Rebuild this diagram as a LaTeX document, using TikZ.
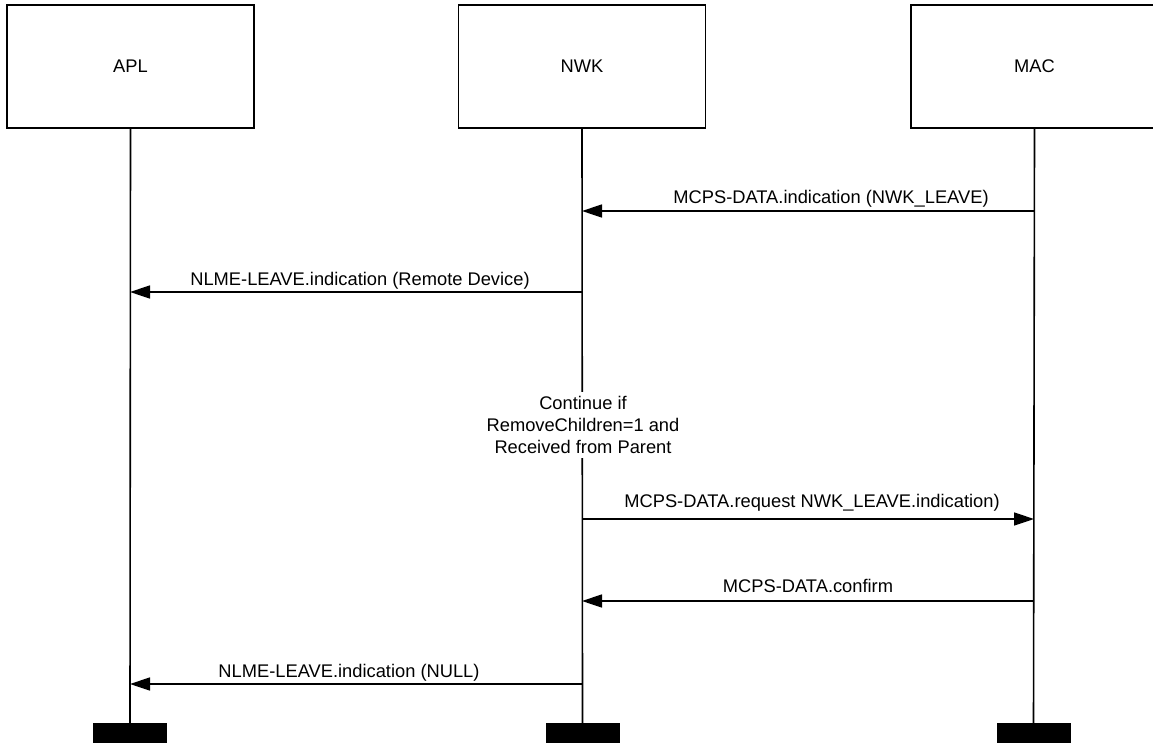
\documentclass[tikz,border=0pt]{standalone}
\usepackage{fontspec}
\setmainfont{Liberation Sans}
\usetikzlibrary{arrows.meta}
\begin{document}
\begin{tikzpicture}[x=1pt,y=-1pt,
  lane/.style={draw, line width=1.6pt, minimum width=247pt, minimum height=123pt, inner sep=0pt, font=\fontsize{18.3}{22}\selectfont},
  bar/.style={fill=black, minimum width=74pt, minimum height=20pt, inner sep=0pt},
  life/.style={line width=1.6pt},
  msg/.style={line width=1.6pt, -{Triangle[length=20pt,width=13pt]}},
  lbl/.style={font=\fontsize{18.3}{22}\selectfont, anchor=base, inner sep=0pt}]
\useasboundingbox (0,0) rectangle (1153,742);
% lanes
\node[lane] (apl) at (130.5,66.5) {APL};
\node[lane] (nwk) at (582,66.5) {NWK};
\node[lane] (mac) at (1034.5,66.5) {MAC};
% bars
\node[bar] (aplbar) at (130,733) {};
\node[bar] (nwkbar) at (582.5,733) {};
\node[bar] (macbar) at (1033.5,733) {};
% lifelines
\draw[life] (apl.south) -- (aplbar.north);
\draw[life] (nwk.south) -- (nwkbar.north);
\draw[life] (mac.south) -- (macbar.north);
% message points
\coordinate (m1a) at (1034,211); \coordinate (m1b) at (582,211);
\coordinate (m2a) at (582,292);  \coordinate (m2b) at (130,292);
\coordinate (m3a) at (582,519);  \coordinate (m3b) at (1034,519);
\coordinate (m4a) at (1034,601); \coordinate (m4b) at (582,601);
\coordinate (m5a) at (582,684);  \coordinate (m5b) at (130,684);
\draw[msg] (m1a) -- (m1b);
\draw[msg] (m2a) -- (m2b);
\draw[msg] (m3a) -- (m3b);
\draw[msg] (m4a) -- (m4b);
\draw[msg] (m5a) -- (m5b);
% labels
\node[lbl] (l1) at (831,203) {MCPS-DATA.indication (NWK\_LEAVE)};
\node[lbl] (l2) at (360,285) {NLME-LEAVE.indication (Remote Device)};
\node[lbl] (l3) at (812,507) {MCPS-DATA.request NWK\_LEAVE.indication)};
\node[lbl] (l4) at (808,592) {MCPS-DATA.confirm};
\node[lbl] (l5) at (349,677) {NLME-LEAVE.indication (NULL)};
\node[font=\fontsize{18.3}{22}\selectfont, align=center, fill=white, anchor=north, inner xsep=2pt, inner ysep=4pt] (cond) at (583,392)
  {Continue if\\RemoveChildren=1 and\\Received from Parent};
\end{tikzpicture}
\end{document}
